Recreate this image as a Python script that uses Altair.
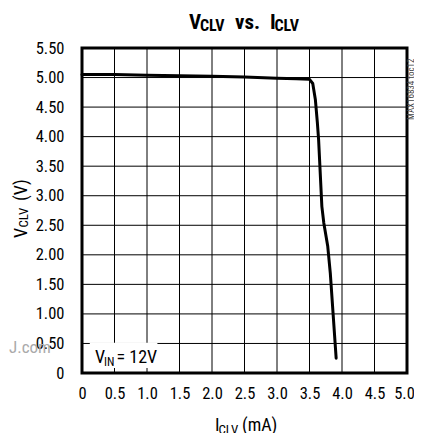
import altair as alt
import pandas as pd

# Curve data (I_CLV in mA, V_CLV in V)
i_clv = [0.0, 0.5, 1.0, 1.5, 2.0, 2.5, 3.0, 3.3, 3.5, 3.55, 3.59, 3.62, 3.64, 3.69, 3.72, 3.78, 3.82, 3.91]
v_clv = [5.05, 5.05, 5.04, 5.03, 5.02, 5.01, 4.99, 4.98, 4.97, 4.90, 4.63, 4.25, 3.95, 2.82, 2.54, 2.15, 1.69, 0.25]

x_ticks = [0, 0.5, 1.0, 1.5, 2.0, 2.5, 3.0, 3.5, 4.0, 4.5, 5.0]
y_ticks = [0, 0.5, 1.0, 1.5, 2.0, 2.5, 3.0, 3.5, 4.0, 4.5, 5.0, 5.5]

# annotation box (data units) behind "VIN = 12V"
box_x = [0.12, 1.16]
box_y = [0.085, 0.51]

FONT = "Liberation Sans Narrow, Noto Sans Condensed, Roboto Condensed, DejaVu Sans Condensed, DejaVu Sans, sans-serif"

df = pd.DataFrame({"i": i_clv, "v": v_clv})
gx = pd.DataFrame({"g": x_ticks})
gy = pd.DataFrame({"g": y_ticks})
box = pd.DataFrame({"x": [box_x[0]], "x2": [box_x[1]], "y": [box_y[0]], "y2": [box_y[1]]})

xs = alt.Scale(domain=[0, 5], nice=False, zero=False)
ys = alt.Scale(domain=[0, 5.5], nice=False, zero=False)

x_axis = alt.Axis(
    values=x_ticks, title=None, grid=False, ticks=False, domain=False,
    labelOverlap=False, labelFlush=False,
    labelOffset={"condition": {"test": "datum.value == 5", "value": -3}, "value": 0},
    labelExpr="datum.value == 0 ? '0' : format(datum.value, '.1f')",
    labelFont=FONT, labelFontSize=16.5, labelPadding=12, labelColor="black")
y_axis = alt.Axis(
    values=y_ticks, title=None, grid=False, ticks=False, domain=False, labelOverlap=False,
    labelExpr="datum.value == 0 ? '0' : format(datum.value, '.2f')",
    labelFont=FONT, labelFontSize=16.5, labelPadding=18, labelColor="black")

grid_x = alt.Chart(gx).mark_rule(color="black", strokeWidth=1).encode(
    x=alt.X("g:Q", scale=xs, axis=x_axis))
grid_y = alt.Chart(gy).mark_rule(color="black", strokeWidth=1).encode(
    y=alt.Y("g:Q", scale=ys, axis=y_axis))

rect = alt.Chart(box).mark_rect(color="white").encode(
    x=alt.X("x:Q", scale=xs, axis=x_axis), x2="x2",
    y=alt.Y("y:Q", scale=ys, axis=y_axis), y2="y2"
)

line = alt.Chart(df).mark_line(color="black", strokeWidth=3, strokeJoin="round", strokeCap="round").encode(
    x=alt.X("i:Q", scale=xs, axis=x_axis),
    y=alt.Y("v:Q", scale=ys, axis=y_axis),
    order=alt.Order("i:Q"),
)


def txt(text, x, y, size, bold=False, angle=0, color="black"):
    kw = dict(align="left", baseline="alphabetic", font=FONT, fontSize=size,
              fontWeight="bold" if bold else "normal", color=color)
    if angle:
        kw["angle"] = angle
    return alt.Chart(pd.DataFrame({"t": [text]})).mark_text(**kw).encode(
        x=alt.value(x), y=alt.value(y), text="t:N")


texts = [
    # title
    txt("V", 107, -19.5, 21, bold=True),
    txt("CLV", 118, -17.5, 16, bold=True),
    txt("vs.", 153, -19.5, 21, bold=True),
    txt("I", 188, -19.5, 21, bold=True),
    txt("CLV", 192.5, -17.5, 16, bold=True),
    # y title
    txt("V", -55.3, 190, 18, angle=270),
    txt("CLV", -54.3, 179.5, 13, angle=270),
    txt("(V)", -55.3, 153, 18, angle=270),
    # x title
    txt("I", 133, 382.5, 18),
    txt("CLV", 136.5, 386, 13),
    txt("(mA)", 160, 382.5, 18),
    # annotation
    txt("V", 13, 315, 18),
    txt("IN", 22, 317.5, 12),
    txt("= 12V", 34.5, 315, 18),
    # side label
    txt("MAX16834 toc12", 331.5, 72, 9, angle=270, color="#444"),
    # watermark fragment
    txt("J.com", -73, 305, 17, color="#aaaaaa"),
]

chart = alt.layer(grid_x, grid_y, rect, line, *texts).properties(
    width=325, height=325,
    autosize=alt.AutoSizeParams(type="none"),
    padding={"left": 74, "top": 40, "right": 7, "bottom": 60},
).configure_view(
    stroke="black", strokeWidth=3
)

chart.save("out.html", embed_options={"renderer": "svg", "actions": False})
